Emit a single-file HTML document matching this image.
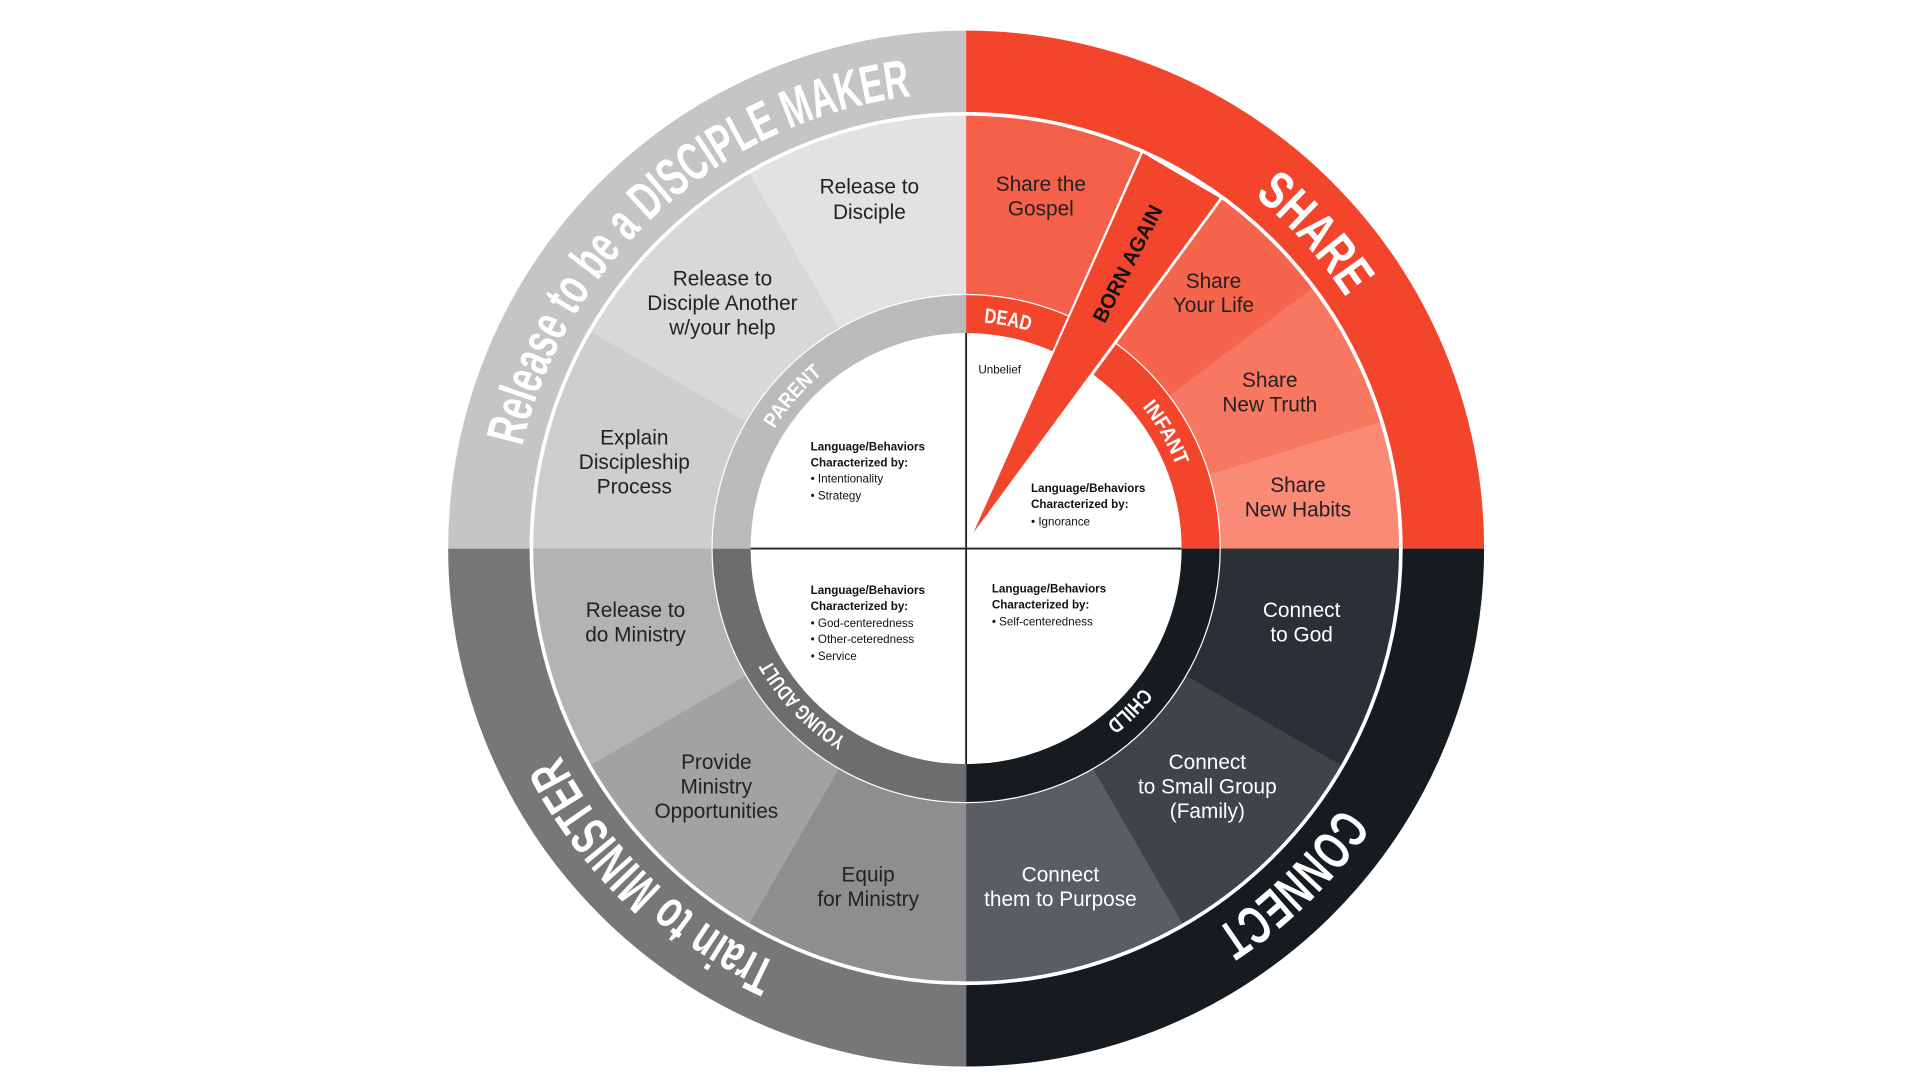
<!DOCTYPE html>
<html><head><meta charset="utf-8"><style>
html,body{margin:0;padding:0;background:#fff;}
svg{display:block}
.w{font-family:"Liberation Sans",sans-serif;font-size:17px;text-anchor:middle;fill:#222;}
.wl{font-family:"Liberation Sans",sans-serif;font-size:17px;text-anchor:middle;fill:#fff;}
.big{font-family:"Liberation Sans Narrow","Liberation Sans",sans-serif;font-weight:bold;font-size:44px;fill:#fff;}
.band{font-family:"Liberation Sans Narrow","Liberation Sans",sans-serif;font-weight:bold;font-size:17px;fill:#fff;}
.s{font-family:"Liberation Sans",sans-serif;font-size:9.5px;fill:#111;}
.sb{font-weight:bold;}
</style></head><body>
<svg width="1920" height="1080" viewBox="0 0 1568 882" xmlns="http://www.w3.org/2000/svg">
<defs>
<path id="outer" d="M789,76 A372,372 0 1 1 789,820 A372,372 0 1 1 789,76"/>
<path id="bandp" d="M789,263 A184,184 0 1 1 789,631 A184,184 0 1 1 789,263"/>
</defs>
<rect width="1568" height="882" fill="#fff"/>
<g transform="translate(0,3)">
<path d="M789,445 L789,22 A423,423 0 0 0 366,445 Z" fill="#c6c5c6"/>
<path d="M789,445 L789,22 A423,423 0 0 1 1212,445 Z" fill="#f2452c"/>
<path d="M789,445 L1212,445 A423,423 0 0 1 789,868 Z" fill="#161b20"/>
<path d="M789,445 L789,868 A423,423 0 0 1 366,445 Z" fill="#777777"/>
<g>
<path d="M789,445 L789,90 A355,355 0 0 1 933.4,120.7 Z" fill="#f4604a"/>
<path d="M789,445 L997.7,157.8 A355,355 0 0 1 1072.5,231.4 Z" fill="#f5654d"/>
<path d="M789,445 L1072.5,231.4 A355,355 0 0 1 1128.5,341.2 Z" fill="#f77761"/>
<path d="M789,445 L1128.5,341.2 A355,355 0 0 1 1144,445 Z" fill="#f98a76"/>
<path d="M789,445 L1144,445 A355,355 0 0 1 1096.4,622.5 Z" fill="#2b3036"/>
<path d="M789,445 L1096.4,622.5 A355,355 0 0 1 966.5,752.4 Z" fill="#404449"/>
<path d="M789,445 L966.5,752.4 A355,355 0 0 1 789,800 Z" fill="#5a5d62"/>
<path d="M789,445 L789,800 A355,355 0 0 1 611.5,752.4 Z" fill="#8f8e8f"/>
<path d="M789,445 L611.5,752.4 A355,355 0 0 1 481.6,622.5 Z" fill="#a3a2a3"/>
<path d="M789,445 L481.6,622.5 A355,355 0 0 1 434,445 Z" fill="#b4b3b4"/>
<path d="M789,445 L434,445 A355,355 0 0 1 481.6,267.5 Z" fill="#cfcecf"/>
<path d="M789,445 L481.6,267.5 A355,355 0 0 1 611.5,137.6 Z" fill="#d9d8d9"/>
<path d="M789,445 L611.5,137.6 A355,355 0 0 1 789,90 Z" fill="#e3e2e3"/>
</g>
<circle cx="789" cy="445" r="355" fill="none" stroke="#fff" stroke-width="3"/>
<circle cx="789" cy="445" r="208" fill="#fff"/>
<path d="M789,445 L789,238 A207,207 0 0 0 582,445 Z" fill="#bcbbbc"/>
<path d="M789,445 L789,238 A207,207 0 0 1 996,445 Z" fill="#f2452c"/>
<path d="M789,445 L996,445 A207,207 0 0 1 789,652 Z" fill="#161b20"/>
<path d="M789,445 L789,652 A207,207 0 0 1 582,445 Z" fill="#6d6d6d"/>
<circle cx="789" cy="445" r="176" fill="#fff"/>
<line x1="613" y1="445" x2="965" y2="445" stroke="#222" stroke-width="1.5"/>
<line x1="789" y1="269" x2="789" y2="621" stroke="#222" stroke-width="1.5"/>
<polygon points="793,437 933.4,120.7 997.7,157.8" fill="#f2452c" stroke="#fff" stroke-width="3" stroke-linejoin="miter"/>
<polygon points="795,432 933.4,122 996,159" fill="#f2452c"/>
</g>
<text class="big"><textPath href="#outer" startOffset="78.6%" textLength="455" lengthAdjust="spacingAndGlyphs">Release to be a DISCIPLE MAKER</textPath></text>
<text class="big"><textPath href="#outer" startOffset="10.9%" textLength="112" lengthAdjust="spacingAndGlyphs">SHARE</textPath></text>
<text class="big"><textPath href="#outer" startOffset="34.6%" textLength="145" lengthAdjust="spacingAndGlyphs">CONNECT</textPath></text>
<text class="big"><textPath href="#outer" startOffset="56.8%" textLength="250" lengthAdjust="spacingAndGlyphs">Train to MINISTER</textPath></text>
<text class="band" text-anchor="middle"><textPath href="#bandp" startOffset="86.4%" textLength="60" lengthAdjust="spacingAndGlyphs">PARENT</textPath></text>
<text class="band" text-anchor="middle"><textPath href="#bandp" startOffset="2.9%" textLength="38" lengthAdjust="spacingAndGlyphs">DEAD</textPath></text>
<text class="band" text-anchor="middle"><textPath href="#bandp" startOffset="16.7%" textLength="56" lengthAdjust="spacingAndGlyphs">INFANT</textPath></text>
<text class="band" text-anchor="middle"><textPath href="#bandp" startOffset="37.5%" textLength="42" lengthAdjust="spacingAndGlyphs">CHILD</textPath></text>
<text class="band" text-anchor="middle"><textPath href="#bandp" startOffset="62.8%" textLength="90" lengthAdjust="spacingAndGlyphs">YOUNG ADULT</textPath></text>
<text class="band" style="fill:#111;font-size:17px" text-anchor="middle" transform="translate(926,218) rotate(-63)" textLength="105" lengthAdjust="spacingAndGlyphs">BORN AGAIN</text>
<text class="w" x="710" y="158">Release to</text><text class="w" x="710" y="179">Disciple</text>
<text class="w" x="590" y="233">Release to</text><text class="w" x="590" y="253">Disciple Another</text><text class="w" x="590" y="273">w/your help</text>
<text class="w" x="518" y="363">Explain</text><text class="w" x="518" y="383">Discipleship</text><text class="w" x="518" y="403">Process</text>
<text class="w" x="850" y="156">Share the</text><text class="w" x="850" y="176">Gospel</text>
<text class="w" x="991" y="235">Share</text><text class="w" x="991" y="255">Your Life</text>
<text class="w" x="1037" y="316">Share</text><text class="w" x="1037" y="336">New Truth</text>
<text class="w" x="1060" y="402">Share</text><text class="w" x="1060" y="422">New Habits</text>
<text class="wl" x="1063" y="504">Connect</text><text class="wl" x="1063" y="524">to God</text>
<text class="wl" x="986" y="628">Connect</text><text class="wl" x="986" y="648">to Small Group</text><text class="wl" x="986" y="668">(Family)</text>
<text class="wl" x="866" y="720">Connect</text><text class="wl" x="866" y="740">them to Purpose</text>
<text class="w" x="709" y="720">Equip</text><text class="w" x="709" y="740">for Ministry</text>
<text class="w" x="585" y="628">Provide</text><text class="w" x="585" y="648">Ministry</text><text class="w" x="585" y="668">Opportunities</text>
<text class="w" x="519" y="504">Release to</text><text class="w" x="519" y="524">do Ministry</text>
<text class="s sb" x="662" y="368">Language/Behaviors</text>
<text class="s sb" x="662" y="381">Characterized by:</text>
<text class="s" x="662" y="394">• Intentionality</text>
<text class="s" x="662" y="408">• Strategy</text>
<text class="s" x="799" y="305">Unbelief</text>
<text class="s sb" x="842" y="402">Language/Behaviors</text>
<text class="s sb" x="842" y="415">Characterized by:</text>
<text class="s" x="842" y="429">• Ignorance</text>
<text class="s sb" x="662" y="485">Language/Behaviors</text>
<text class="s sb" x="662" y="498">Characterized by:</text>
<text class="s" x="662" y="512">• God-centeredness</text>
<text class="s" x="662" y="525">• Other-ceteredness</text>
<text class="s" x="662" y="539">• Service</text>
<text class="s sb" x="810" y="484">Language/Behaviors</text>
<text class="s sb" x="810" y="497">Characterized by:</text>
<text class="s" x="810" y="511">• Self-centeredness</text>
</svg>
</body></html>
